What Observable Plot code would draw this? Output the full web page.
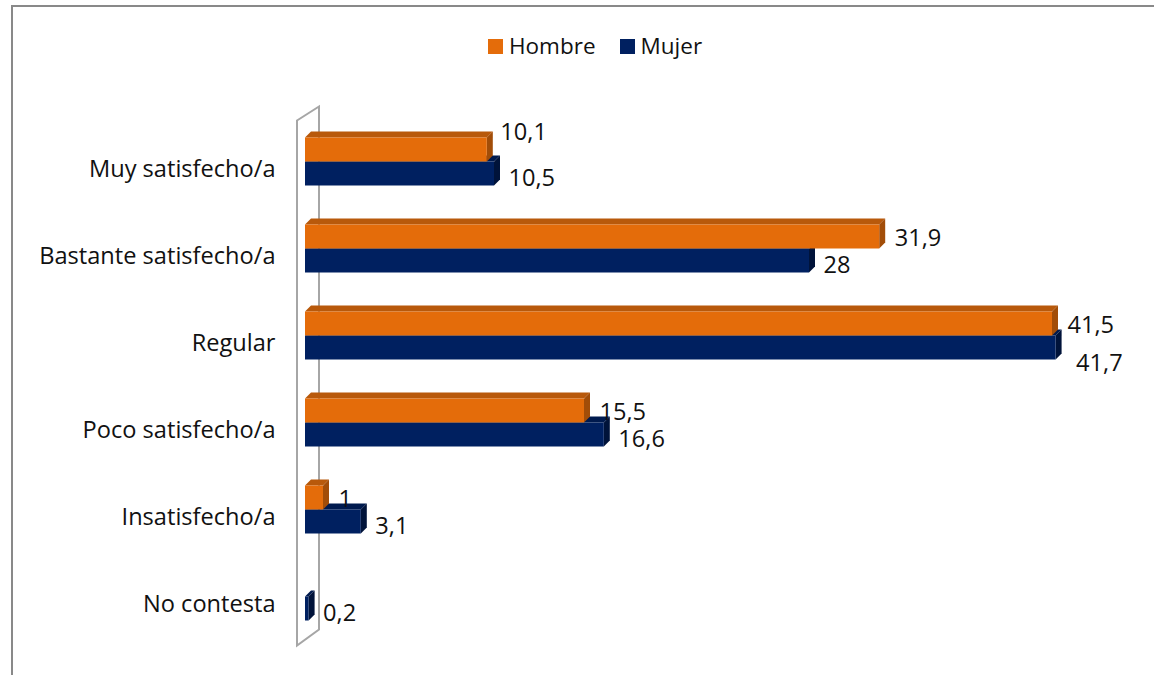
<!DOCTYPE html>
<html><head><meta charset="utf-8">
<script src="https://cdn.jsdelivr.net/npm/d3@7"></script>
<script src="https://cdn.jsdelivr.net/npm/@observablehq/plot@0.6"></script>
<style>
html,body{margin:0;padding:0;background:#fff;overflow:hidden}
#wrap{position:relative;width:1154px;height:675px;font-family:"Open Sans",sans-serif;overflow:hidden}
#frame{position:absolute;left:11px;top:5px;width:1300px;height:800px;border-left:2px solid #898989;border-top:2px solid #898989;box-sizing:border-box}
#legend{position:absolute;top:35px;left:488px;display:flex;align-items:center;font-size:22.5px;line-height:22px;color:#111}
.item{display:flex;align-items:center;margin-right:24px}
.sw{display:inline-block;width:15px;height:15px;margin-right:6px}
#chart{position:absolute;left:0;top:0}
</style></head>
<body>
<div id="wrap"><div id="frame"></div><div id="legend"></div><div id="chart"></div></div>
<script>
// ---- data ----
const categories = ["Muy satisfecho/a", "Bastante satisfecho/a", "Regular", "Poco satisfecho/a", "Insatisfecho/a", "No contesta"];
const seriesNames = ["Hombre", "Mujer"];
const hombre = [10.1, 31.9, 41.5, 15.5, 1, null];
const mujer  = [10.5, 28, 41.7, 16.6, 3.1, 0.2];
const seriesColors = ["#E46C0A", "#002060"];

// ---- styling / layout (not data) ----
const topShade  = {Hombre: "#b8590b", Mujer: "#001a4e"};
const sideShade = {Hombre: "#a24d08", Mujer: "#00133a"};
const STEP = 87, BAR = 24, D = 6, Y0 = 117.5, Y1 = Y0 + STEP * categories.length;
const FONT = "Open Sans";
const FS = 23.6;
const fmt = v => String(v).replace(".", ",");

const rows = [];
categories.forEach((c, i) => {
  if (hombre[i] != null) rows.push({cat: c, serie: "Hombre", v: hombre[i]});
  if (mujer[i] != null) rows.push({cat: c, serie: "Mujer", v: mujer[i]});
});
const H = rows.filter(d => d.serie === "Hombre");
const M = rows.filter(d => d.serie === "Mujer");

// label nudges (layout only)
const isOutH = d => d.cat === "Muy satisfecho/a";
const isOutM = d => d.cat === "Regular";

// legend
const leg = document.getElementById("legend");
seriesNames.forEach((s, i) => {
  const it = document.createElement("div"); it.className = "item";
  const sw = document.createElement("span"); sw.className = "sw"; sw.style.background = seriesColors[i];
  const t = document.createElement("span"); t.textContent = s;
  it.append(sw, t); leg.append(it);
});

const bw = s => (s.y && s.y.bandwidth ? s.y.bandwidth() : STEP);

const wall = (index, scales) => {
  const x0 = scales.x(0);
  const r = scales.y.range ? scales.y.range() : [Y0, Y1];
  const a = Math.min(...r), b = Math.max(...r);
  const pts = [[x0 - 8, a + 3], [x0 + 14, a - 11], [x0 + 14, b - 10], [x0 - 8, b + 6]];
  const g = d3.create("svg:g");
  g.append("path").attr("d", "M" + pts.join("L") + "Z")
    .attr("fill", "#fff").attr("stroke", "#a6a6a6").attr("stroke-width", 2);
  return g.node();
};

const faces = data => (index, scales) => {
  const g = d3.create("svg:g");
  for (const d of data) {
    const x0 = scales.x(0), x1 = scales.x(d.v);
    const yc = scales.y(d.cat) + bw(scales) / 2;
    const top = d.serie === "Hombre" ? yc - BAR : yc;
    const bot = top + BAR;
    g.append("path").attr("fill", topShade[d.serie])
      .attr("d", `M${x0},${top}L${x0 + D},${top - D}L${x1 + D},${top - D}L${x1},${top}Z`);
    g.append("path").attr("fill", sideShade[d.serie])
      .attr("d", `M${x1},${top}L${x1 + D},${top - D}L${x1 + D},${bot - D}L${x1},${bot}Z`);
  }
  return g.node();
};

const chart = Plot.plot({
  width: 1154,
  height: 675,
  marginLeft: 305,
  marginRight: 39,
  marginTop: 0,
  marginBottom: 0,
  x: {domain: [0, 45], range: [305, 1115], axis: null},
  y: {domain: categories, range: [Y0, Y1], padding: 0, axis: null},
  style: {fontFamily: FONT, fontSize: FS + "px", color: "#111", background: "transparent", overflow: "visible"},
  marks: [
    wall,
    faces(M),
    Plot.barX(M, {x: "v", y: "cat", fill: seriesColors[1], insetTop: STEP / 2, insetBottom: STEP / 2 - BAR}),
    faces(H),
    Plot.barX(H, {x: "v", y: "cat", fill: seriesColors[0], insetTop: STEP / 2 - BAR, insetBottom: STEP / 2}),
    Plot.text(categories, {y: d => d, frameAnchor: "left", textAnchor: "end", dx: -30, dy: 7, fontSize: FS, fill: "#111"}),
    Plot.text(H.filter(d => !isOutH(d)), {x: "v", y: "cat", text: d => fmt(d.v), textAnchor: "start", dx: 15, dy: -11, fontSize: FS, fill: "#111"}),
    Plot.text(H.filter(isOutH), {x: "v", y: "cat", text: d => fmt(d.v), textAnchor: "start", dx: 13, dy: -30, fontSize: FS, fill: "#111"}),
    Plot.text(M.filter(d => !isOutM(d)), {x: "v", y: "cat", text: d => fmt(d.v), textAnchor: "start", dx: 14, dy: 16, fontSize: FS, fill: "#111"}),
    Plot.text(M.filter(isOutM), {x: "v", y: "cat", text: d => fmt(d.v), textAnchor: "start", dx: 20, dy: 27, fontSize: FS, fill: "#111"})
  ]
});
document.getElementById("chart").append(chart);
</script>
</body></html>
